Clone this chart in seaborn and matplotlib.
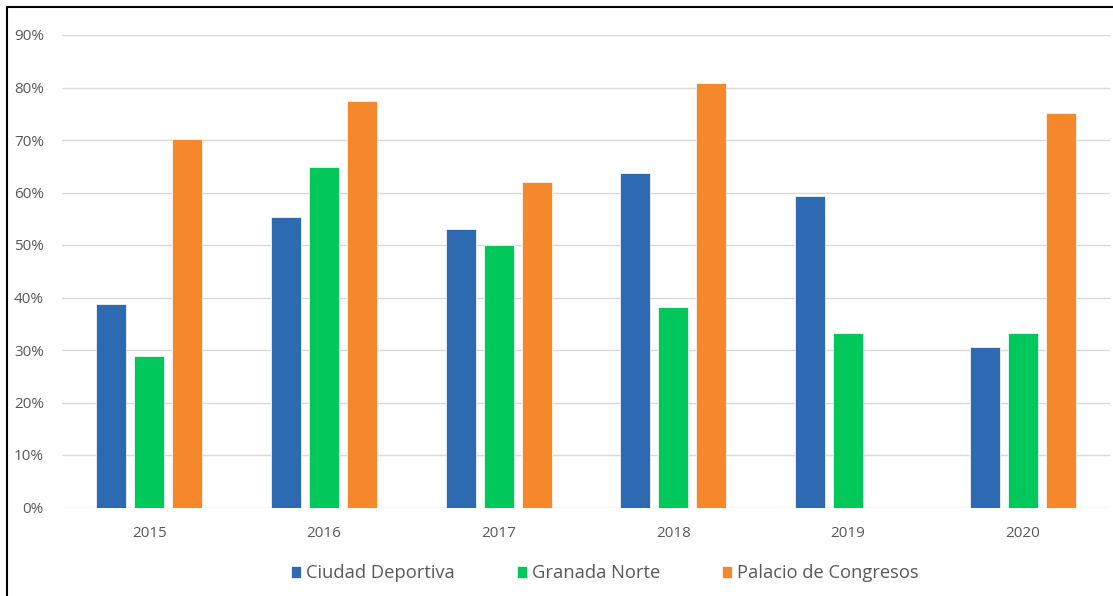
import matplotlib
matplotlib.use("Agg")
import matplotlib.pyplot as plt
from matplotlib.lines import Line2D
from matplotlib.ticker import FuncFormatter
import pandas as pd
import seaborn as sns

years = ["2015", "2016", "2017", "2018", "2019", "2020"]
series = ["Ciudad Deportiva", "Granada Norte", "Palacio de Congresos"]
ciudad_deportiva = [0.387, 0.553, 0.530, 0.638, 0.593, 0.305]
granada_norte = [0.289, 0.648, 0.500, 0.382, 0.332, 0.332]
palacio_congresos = [0.701, 0.774, 0.620, 0.808, None, 0.751]
colors = ["#2E6AB1", "#00C85A", "#F5882B"]
y_ticks = [0.0, 0.1, 0.2, 0.3, 0.4, 0.5, 0.6, 0.7, 0.8, 0.9]

rows = []
for name, vals in zip(series, [ciudad_deportiva, granada_norte, palacio_congresos]):
    for yr, v in zip(years, vals):
        rows.append({"Año": yr, "Sede": name, "Valor": v})
df = pd.DataFrame(rows)

sns.set_theme(style="white")
plt.rcParams["font.family"] = ["Open Sans", "DejaVu Sans"]
text_color = "#595959"
grid_color = "#D9D9D9"

fig = plt.figure(figsize=(11.13, 5.96), dpi=100)
W, H = 1113, 596
ax = fig.add_axes([62 / W, 1 - 507.5 / H, (1110 - 62) / W, (507.5 - 35) / H])

sns.barplot(
    data=df, x="Año", y="Valor", hue="Sede", order=years, hue_order=series,
    palette=colors, width=0.6526, gap=0.21, ax=ax,
    edgecolor="white", linewidth=0.5, saturation=1, errorbar=None,
)

ax.set_ylim(0, 0.9)
ax.set_xlim(-0.5, len(years) - 0.5)
ax.set_yticks(y_ticks)
ax.yaxis.set_major_formatter(FuncFormatter(lambda v, _: f"{v * 100:.0f}%"))
ax.grid(axis="y", color=grid_color, linewidth=1.0)
ax.set_axisbelow(True)
for s in ax.spines.values():
    s.set_visible(False)
ax.tick_params(axis="y", length=0, pad=13, labelsize=11, labelcolor=text_color)
ax.tick_params(axis="x", length=0, pad=13, labelsize=11, labelcolor=text_color)
ax.set_xlabel("")
ax.set_ylabel("")

handles, labels = ax.get_legend_handles_labels()
ax.legend(
    handles, labels, loc="center", bbox_to_anchor=(605 / W, 1 - 573.5 / H),
    bbox_transform=fig.transFigure, ncol=3, frameon=False,
    fontsize=13.2, labelcolor=text_color, handlelength=0.55, handleheight=0.6,
    handletextpad=0.3, columnspacing=3.35,
)

# outer frame on the left and top edges
fig.add_artist(Line2D([6.5 / W, 6.5 / W], [0, 1 - 7 / H], color="black", linewidth=1.5))
fig.add_artist(Line2D([6.5 / W, 1], [1 - 7 / H, 1 - 7 / H], color="black", linewidth=1.5))

fig.savefig("out.png", dpi=100)
